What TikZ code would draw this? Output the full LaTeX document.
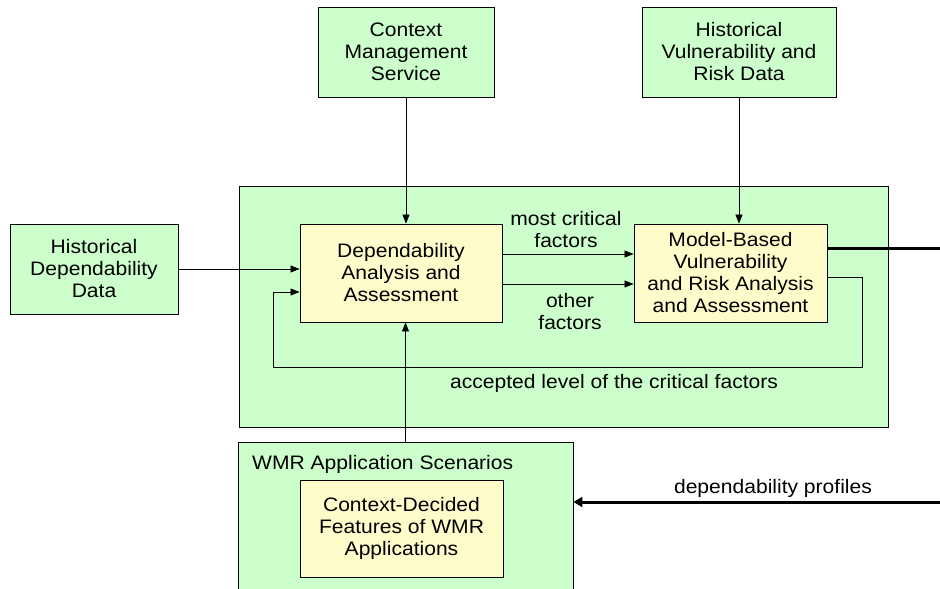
\documentclass[tikz,border=0pt]{standalone}
\usepackage{fontspec}
\setmainfont{Liberation Sans}[FakeStretch=1.08]
\usetikzlibrary{arrows.meta}

\begin{document}
\begin{tikzpicture}[x=1pt,y=-1pt,every node/.style={font=\fontsize{19.5}{22}\selectfont},
  vert/.style={draw,line width=0.9pt,fill=green!20,align=center,inner sep=0pt},
  jaune/.style={draw,line width=0.9pt,fill=yellow!20,align=center,inner sep=0pt},
  fl/.style={line width=0.7pt,-{Triangle[length=9pt,width=7pt]}},
  gras/.style={line width=3pt}]

\clip (0,0) rectangle (940,589);

\node[vert,minimum width=649pt,minimum height=241pt] (ana) at (563.5,306.5) {};
\node[vert,minimum width=335pt,minimum height=178pt] (wmr) at (405.5,531) {};
\node[anchor=base west,inner sep=0pt] (titre) at (252,469) {WMR Application Scenarios};

\node[vert,minimum width=168pt,minimum height=90pt] (hdd) at (94,269) {Historical\\Dependability\\Data};
\node[vert,minimum width=176pt,minimum height=90pt] (ctx) at (406,52) {Context\\Management\\Service};
\node[vert,minimum width=194pt,minimum height=90pt] (hvr) at (739,52) {Historical\\Vulnerability and\\Risk Data};

\node[jaune,minimum width=202pt,minimum height=98pt] (dep) at (401,273) {Dependability\\Analysis and\\Assessment};
\node[jaune,minimum width=193pt,minimum height=98pt] (mod) at (730.5,273) {Model-Based\\Vulnerability\\and Risk Analysis\\and Assessment};
\node[jaune,minimum width=203pt,minimum height=97pt] (cdf) at (401.5,528.5) {Context-Decided\\Features of WMR\\Applications};

\node[align=center,inner sep=0pt] (mcf) at (566,230) {most critical\\factors};
\node[align=center,inner sep=0pt] (ofa) at (570,312) {other\\factors};
\node[anchor=west,inner sep=0pt] (acc) at (450,383) {accepted level of the critical factors};
\node[inner sep=0pt] (prof) at (773,488) {dependability profiles};

\coordinate (fb) at (273,367);
\coordinate (sortie) at (940,248);
\coordinate (entree) at (940,502);

\draw[fl] (hdd.east) -- (hdd.east -| dep.west);
\draw[fl] (ctx.south) -- (ctx.south |- dep.north);
\draw[fl] (hvr.south) -- (hvr.south |- mod.north);
\draw[fl] ([yshift=19pt]dep.east) -- ([yshift=19pt]mod.west);
\draw[fl] ([yshift=-11pt]dep.east) -- ([yshift=-11pt]mod.west);
\draw[fl] ([yshift=-4pt]mod.east) -- ++(35,0) |- (fb) |- ([yshift=-19pt]dep.west);
\draw[fl] (wmr.north) -- (wmr.north |- dep.south);

\draw[gras] ([yshift=25pt]mod.east) -- (sortie);
\draw[gras,-{Triangle[length=9pt,width=10pt]}] (entree) -- (entree -| wmr.east);
\end{tikzpicture}
\end{document}
